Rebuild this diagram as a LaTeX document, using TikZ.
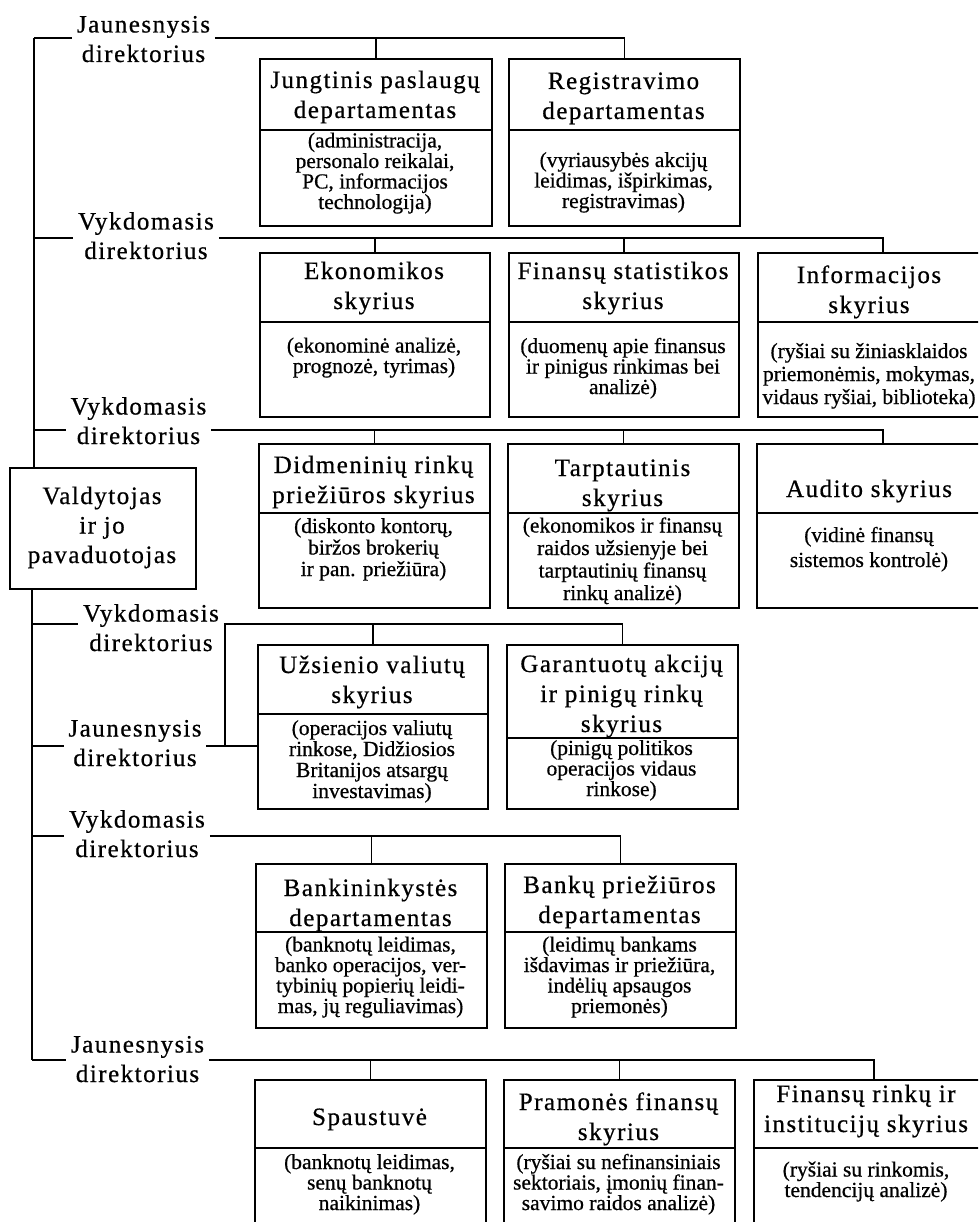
\documentclass[tikz,border=0pt]{standalone}
\usepackage{fontspec}
\setmainfont{Liberation Serif}[FakeBold=0.6]
\newfontfamily\headfont{Liberation Serif}[LetterSpace=6,FakeBold=0.6]
\begin{document}
% Text nodes are placed by the baseline of their last line.
\begin{tikzpicture}[x=1pt,y=-1pt,line width=1.9pt,
  box/.style={draw,inner sep=0pt,anchor=north west},
  ttl/.style={font=\headfont\fontsize{25}{30}\selectfont,align=center,inner sep=0pt,anchor=base},
  dsc/.style={font=\fontsize{21.5}{20.5}\selectfont,align=center,inner sep=0pt,anchor=base},
  lbl/.style={font=\headfont\fontsize{25}{29.5}\selectfont,align=center,inner xsep=4pt,inner ysep=0pt,anchor=base},
]
\useasboundingbox (0,0) rectangle (978,1222);
\fill[white] (0,0) rectangle (978,1222);
\clip (0,0) rectangle (978,1222);

% ---- governor ----
\node[box,minimum width=186pt,minimum height=121pt] (gov) at (9,467) {};
\node[lbl] (govT) at (102,563) {Valdytojas\\ir jo\\pavaduotojas};

% ---- director labels ----
\node[lbl] (L1) at (143.5,62) {Jaunesnysis\\direktorius};
\node[lbl] (L2) at (146,259) {Vykdomasis\\direktorius};
\node[lbl] (L3) at (138.5,444) {Vykdomasis\\direktorius};
\node[lbl] (L4) at (151,651) {Vykdomasis\\direktorius};
\node[lbl] (L5) at (135,766) {Jaunesnysis\\direktorius};
\node[lbl] (L6) at (137,857) {Vykdomasis\\direktorius};
\node[lbl] (L7) at (137.5,1082) {Jaunesnysis\\direktorius};

% ---- department boxes ----
\node[box,minimum width=232pt,minimum height=167pt] (jung) at (259,58) {};
\node[box,minimum width=231pt,minimum height=167pt] (reg) at (508,58) {};
\node[box,minimum width=230pt,minimum height=164pt] (ek) at (259,252) {};
\node[box,minimum width=230pt,minimum height=164pt] (fin) at (508,252) {};
\node[box,minimum width=250pt,minimum height=164pt] (info) at (757,252) {};
\node[box,minimum width=231pt,minimum height=164pt] (didm) at (258,443) {};
\node[box,minimum width=231pt,minimum height=164pt] (tarp) at (507,443) {};
\node[box,minimum width=252pt,minimum height=164pt] (aud) at (756,443) {};
\node[box,minimum width=230pt,minimum height=164pt] (uz) at (257,644) {};
\node[box,minimum width=231pt,minimum height=164pt] (gar) at (506,644) {};
\node[box,minimum width=231pt,minimum height=164pt] (bank) at (255,863) {};
\node[box,minimum width=231pt,minimum height=164pt] (bpr) at (504,863) {};
\node[box,minimum width=231pt,minimum height=180pt] (spa) at (254,1079) {};
\node[box,minimum width=231pt,minimum height=180pt] (pram) at (503,1079) {};
\node[box,minimum width=240pt,minimum height=180pt] (frk) at (753,1079) {};

% dividers between heading and duties
\foreach \b/\d in {jung/72,reg/72,ek/70,fin/70,info/70,didm/70,tarp/70,aud/70,
                   uz/70,gar/94,bank/69,bpr/69,spa/69,pram/69,frk/69}
  \draw ([yshift=-\d pt]\b.north west) -- ([yshift=-\d pt]\b.north east);

% ---- headings ----
\node[ttl] (jungT) at (375,118) {Jungtinis paslaugų\\departamentas};
\node[ttl] (regT) at (623.5,119) {Registravimo\\departamentas};
\node[ttl] (ekT) at (374,309) {Ekonomikos\\skyrius};
\node[ttl] (finT) at (623,309) {Finansų statistikos\\skyrius};
\node[ttl] (infoT) at (869,313) {Informacijos\\skyrius};
\node[ttl] (didmT) at (373.5,503) {Didmeninių rinkų\\priežiūros skyrius};
\node[ttl] (tarpT) at (622.5,506) {Tarptautinis\\skyrius};
\node[ttl] (audT) at (869,497) {Audito skyrius};
\node[ttl] (uzT) at (372,703) {Užsienio valiutų\\skyrius};
\node[ttl] (garT) at (621.5,732) {Garantuotų akcijų\\ir pinigų rinkų\\skyrius};
\node[ttl] (bankT) at (370.5,926) {Bankininkystės\\departamentas};
\node[ttl] (bprT) at (619.5,923) {Bankų priežiūros\\departamentas};
\node[ttl] (spaT) at (369.5,1125) {Spaustuvė};
\node[ttl] (pramT) at (618.5,1140) {Pramonės finansų\\skyrius};
\node[ttl] (frkT) at (866,1132) {Finansų rinkų ir\\institucijų skyrius};

% ---- duties ----
\node[dsc] (jungD) at (375,209) {(administracija,\\personalo reikalai,\\PC, informacijos\\technologija)};
\node[dsc] (regD) at (623.5,208) {(vyriausybės akcijų\\leidimas, išpirkimas,\\registravimas)};
\node[dsc] (ekD) at (374,373) {(ekonominė analizė,\\prognozė, tyrimas)};
\node[dsc] (finD) at (623,394) {(duomenų apie finansus\\ir pinigus rinkimas bei\\analizė)};
\node[dsc,font=\fontsize{21.5}{23}\selectfont] (infoD) at (869,404) {(ryšiai su žiniasklaidos\\priemonėmis, mokymas,\\vidaus ryšiai, biblioteka)};
\node[dsc,font=\fontsize{21.5}{21.5}\selectfont] (didmD) at (373.5,576) {(diskonto kontorų,\\biržos brokerių\\ir pan. priežiūra)};
\node[dsc,font=\fontsize{21.5}{22.5}\selectfont] (tarpD) at (622.5,600) {(ekonomikos ir finansų\\raidos užsienyje bei\\tarptautinių finansų\\rinkų analizė)};
\node[dsc,font=\fontsize{21.5}{25}\selectfont] (audD) at (869,567) {(vidinė finansų\\sistemos kontrolė)};
\node[dsc,font=\fontsize{21.5}{21}\selectfont] (uzD) at (372,798) {(operacijos valiutų\\rinkose, Didžiosios\\Britanijos atsargų\\investavimas)};
\node[dsc] (garD) at (621.5,796) {(pinigų politikos\\operacijos vidaus\\rinkose)};
\node[dsc] (bankD) at (370.5,1013) {(banknotų leidimas,\\banko operacijos, ver-\\tybinių popierių leidi-\\mas, jų reguliavimas)};
\node[dsc] (bprD) at (619.5,1013) {(leidimų bankams\\išdavimas ir priežiūra,\\indėlių apsaugos\\priemonės)};
\node[dsc] (spaD) at (369.5,1210) {(banknotų leidimas,\\senų banknotų\\naikinimas)};
\node[dsc] (pramD) at (618.5,1210) {(ryšiai su nefinansiniais\\sektoriais, įmonių finan-\\savimo raidos analizė)};
\node[dsc] (frkD) at (866,1197) {(ryšiai su rinkomis,\\tendencijų analizė)};

% ---- branch lines ----
\coordinate (r1) at (34,38);
\coordinate (r2) at (34,238);
\coordinate (r3) at (34,430);
\coordinate (r4) at (32,624);
\coordinate (r5) at (32,746);
\coordinate (r6) at (32,836);
\coordinate (r7) at (32,1060);
\coordinate (k45) at (225,624);

% spine
\draw (r1) -- (r1 |- gov.north);
\draw (r7 |- gov.south) -- (r7);

% Jaunesnysis direktorius (top)
\draw (r1) -- (r1 -| L1.west);
\draw (r1 -| L1.east) -- (r1 -| reg.north) -- (reg.north);
\draw (r1 -| jung.north) -- (jung.north);

% Vykdomasis direktorius
\draw (r2) -- (r2 -| L2.west);
\draw (r2 -| L2.east) -- (r2 -| info.north) -- (info.north);
\draw (r2 -| ek.north) -- (ek.north);
\draw (r2 -| fin.north) -- (fin.north);

% Vykdomasis direktorius
\draw (r3) -- (r3 -| L3.west);
\draw (r3 -| L3.east) -- (r3 -| aud.north) -- (aud.north);
\draw (r3 -| didm.north) -- (didm.north);
\draw (r3 -| tarp.north) -- (tarp.north);

% Vykdomasis direktorius and Jaunesnysis direktorius sharing two units
\draw (r4) -- (r4 -| L4.west);
\draw (r4 -| L4.east) -- (r4 -| gar.north) -- (gar.north);
\draw (r4 -| uz.north) -- (uz.north);
\draw (k45) -- (k45 |- r5);
\draw (r5) -- (r5 -| L5.west);
\draw (r5 -| L5.east) -- (r5 -| uz.west);

% Vykdomasis direktorius
\draw (r6) -- (r6 -| L6.west);
\draw (r6 -| L6.east) -- (r6 -| bpr.north) -- (bpr.north);
\draw (r6 -| bank.north) -- (bank.north);

% Jaunesnysis direktorius (bottom)
\draw (r7) -- (r7 -| L7.west);
\draw (r7 -| L7.east) -- (r7 -| frk.north) -- (frk.north);
\draw (r7 -| spa.north) -- (spa.north);
\draw (r7 -| pram.north) -- (pram.north);
\end{tikzpicture}
\end{document}
